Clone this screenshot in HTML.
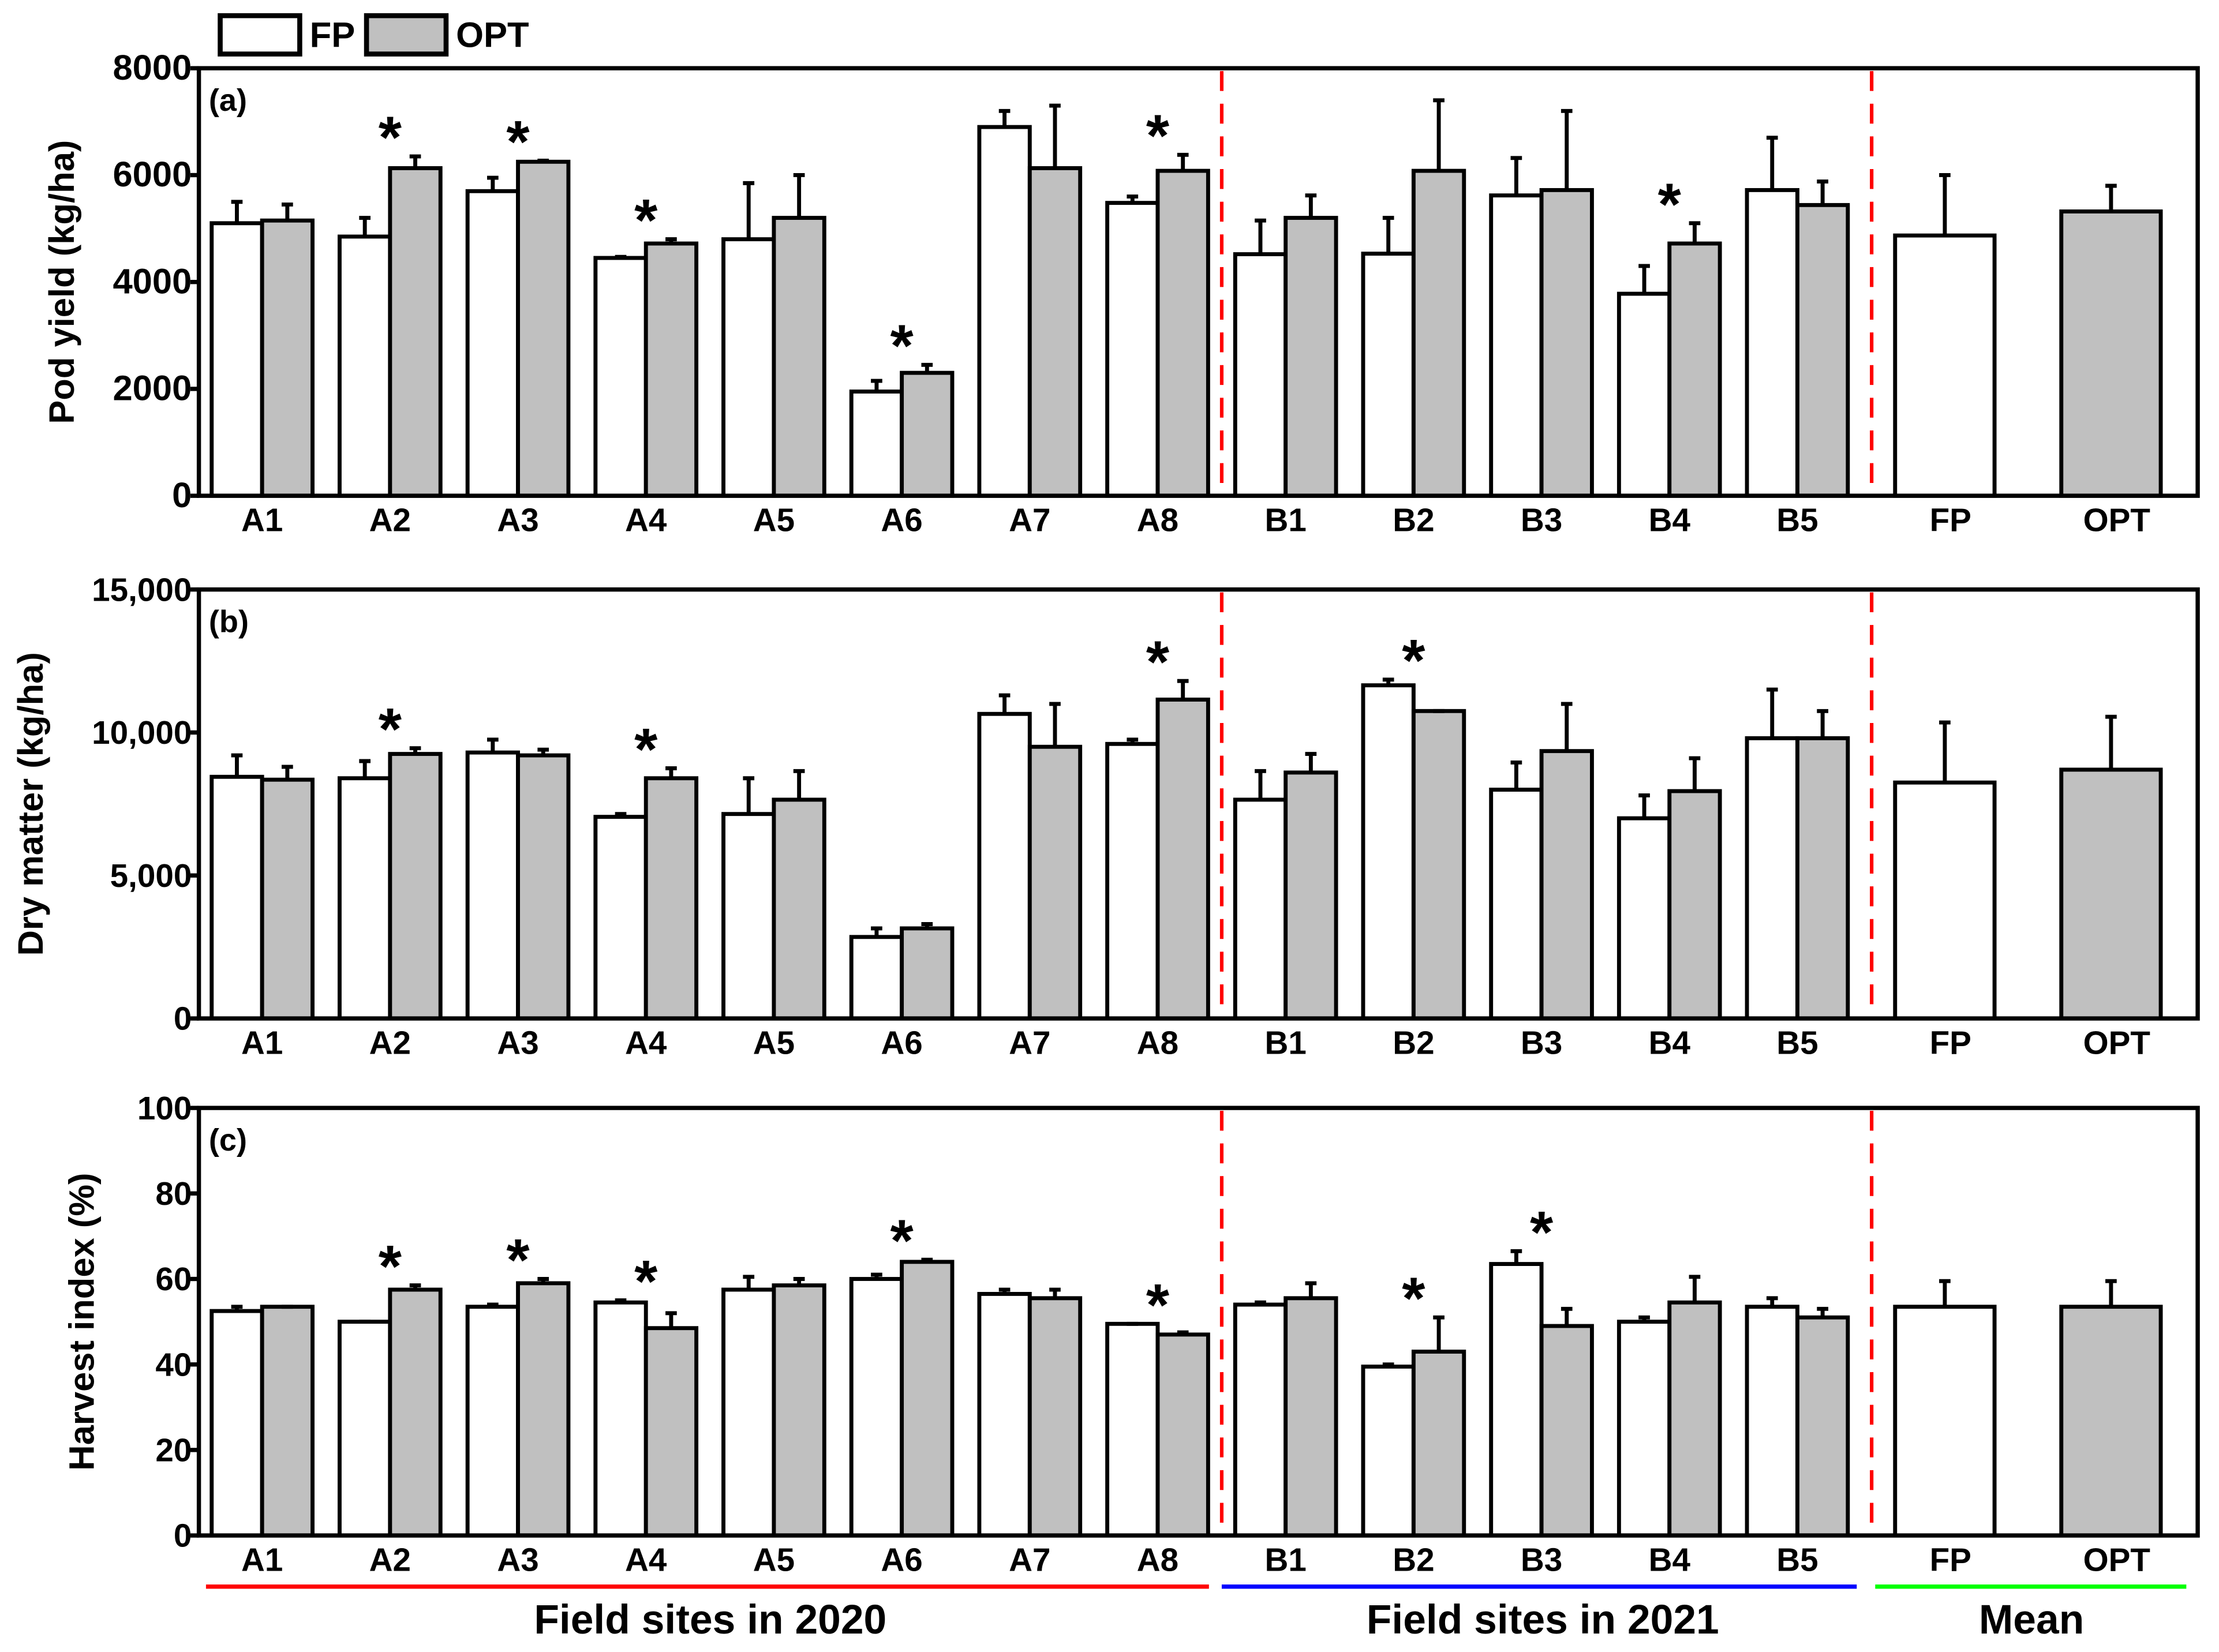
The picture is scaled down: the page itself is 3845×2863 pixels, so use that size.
<!DOCTYPE html>
<html><head><meta charset="utf-8"><style>
html,body{margin:0;padding:0;background:#fff;overflow:hidden}
svg{display:block}
text{font-family:"Liberation Sans",sans-serif;font-weight:bold;fill:#000}
.n{font-family:"Liberation Sans Narrow","Liberation Sans",sans-serif}
</style></head><body>
<svg id="chart" width="3845" height="2863" viewBox="0 0 1562 1163" xmlns="http://www.w3.org/2000/svg">
<g id="root"></g>
</svg>
<script>
const categories=["A1","A2","A3","A4","A5","A6","A7","A8","B1","B2","B3","B4","B5"];
const meanLabels=["FP","OPT"];
// panel a: pod yield
const aFP=[5100,4850,5700,4450,4800,1950,6900,5480,4520,4530,5620,3780,5720];
const aFPerr=[5500,5200,5950,4470,5850,2150,7200,5600,5150,5200,6320,4300,6700];
const aOPT=[5150,6130,6250,4720,5200,2300,6130,6080,5200,6080,5720,4720,5440];
const aOPTerr=[5450,6350,6270,4800,6000,2450,7300,6380,5620,7400,7200,5100,5880];
const aMean=[4870,5320];const aMeanErr=[6000,5800];
const aStars=["A2","A3","A4","A6","A8","B4"];
const aTicks=["0","2000","4000","6000","8000"];
// panel b: dry matter
const bFP=[8450,8400,9300,7050,7150,2850,10650,9600,7650,11650,8000,7000,9800];
const bFPerr=[9200,9000,9750,7150,8400,3150,11300,9750,8650,11850,8950,7800,11500];
const bOPT=[8350,9250,9200,8400,7650,3150,9500,11150,8600,10750,9350,7950,9800];
const bOPTerr=[8800,9450,9400,8750,8650,3300,11000,11800,9250,10750,11000,9100,10750];
const bMean=[8250,8700];const bMeanErr=[10350,10550];
const bStars=["A2","A4","A8","B2"];
const bTicks=["0","5,000","10,000","15,000"];
// panel c: harvest index
const cFP=[52.5,50,53.5,54.5,57.5,60,56.5,49.5,54,39.5,63.5,50,53.5];
const cFPerr=[53.5,50,54,55,60.5,61,57.5,49.5,54.5,40,66.5,51,55.5];
const cOPT=[53.5,57.5,59,48.5,58.5,64,55.5,47,55.5,43,49,54.5,51];
const cOPTerr=[53.5,58.5,60,52,60,64.5,57.5,47.5,59,51,53,60.5,53];
const cMean=[53.5,53.5];const cMeanErr=[59.5,59.5];
const cStars=["A2","A3","A4","A6","A8","B2","B3"];
const cTicks=["0","20","40","60","80","100"];

const NS="http://www.w3.org/2000/svg";
const root=document.getElementById('root');
function el(tag,attrs,parent,txt){const e=document.createElementNS(NS,tag);for(const k in attrs)e.setAttribute(k,attrs[k]);if(txt!==undefined)e.textContent=txt;(parent||root).appendChild(e);return e;}
const X0=140,X1=1547;
const xCenter=i=>184.5+i*90.06;
const meanX=[1369,1486];

const panels=[
 {id:'a',top:48,bot:349,max:8000,fp:aFP,fpe:aFPerr,op:aOPT,ope:aOPTerr,m:aMean,me:aMeanErr,st:aStars,ticks:aTicks,title:'Pod yield (kg/ha)',tx:52,narrow:true},
 {id:'b',top:415,bot:717,max:15000,fp:bFP,fpe:bFPerr,op:bOPT,ope:bOPTerr,m:bMean,me:bMeanErr,st:bStars,ticks:bTicks,title:'Dry matter (kg/ha)',tx:30,narrow:false},
 {id:'c',top:780,bot:1081,max:100,fp:cFP,fpe:cFPerr,op:cOPT,ope:cOPTerr,m:cMean,me:cMeanErr,st:cStars,ticks:cTicks,title:'Harvest index (%)',tx:66,narrow:false}
];
panels.forEach(p=>{
 const g=el('g',{});
 
 
 const y=v=>p.bot-(v/p.max)*(p.bot-p.top);
 function bar(x,w,v,e,fill,name){
  const r=el('rect',{x:x,y:y(v),width:w,height:p.bot-y(v),fill:fill,stroke:'#000','stroke-width':2.8},g);
  
  
  const cx=x+w/2;
  const l=el('path',{d:`M${cx},${y(v)} V${y(e)} M${cx-4},${y(e)} H${cx+4}`,stroke:'#000','stroke-width':2.8,fill:'none'},g);
  
  
 }
 categories.forEach((c,i)=>{
  const cx=xCenter(i);
  bar(cx-35.5,35.5,p.fp[i],p.fpe[i],'#fff','bar-fp-'+c);
  bar(cx,35.5,p.op[i],p.ope[i],'#c0c0c0','bar-opt-'+c);
  const t=el('text',{x:cx,y:p.bot+25,'text-anchor':'middle','font-size':23},g,c);
  
  
 });
 bar(meanX[0]-35,70,p.m[0],p.me[0],'#fff','bar-mean-fp');
 bar(meanX[1]-35,70,p.m[1],p.me[1],'#c0c0c0','bar-mean-opt');
 meanLabels.forEach((m,i)=>{
  const t=el('text',{x:meanX[i]+4,y:p.bot+25,'text-anchor':'middle','font-size':23},g,m);
  
  
 });
 p.st.forEach(s=>{
  const i=categories.indexOf(s);
  const top=Math.min(y(p.fpe[i]),y(p.ope[i]));
  const t=el('text',{x:xCenter(i),y:top+1,'text-anchor':'middle','font-size':42},g,'*');
  
  
 });
 [860,1317.5].forEach((dx,k)=>{
  const d=el('line',{x1:dx,y1:p.top+2,x2:dx,y2:p.bot-2,stroke:'#ff0000','stroke-width':2.5,'stroke-dasharray':'14,9'},g);
  
  
 });
 const box=el('rect',{x:X0,y:p.top,width:X1-X0,height:p.bot-p.top,fill:'none',stroke:'#000','stroke-width':3},g);
 
 
 p.ticks.forEach((tk,i)=>{
  const v=i*p.max/(p.ticks.length-1);
  el('line',{x1:X0-6,x2:X0,y1:y(v),y2:y(v),stroke:'#000','stroke-width':3},g);
  const t=el('text',{x:X0-5,y:y(v)+8,'text-anchor':'end','font-size':p.narrow?25:23,class:p.narrow?'n':''},g,tk);
  
  
 });
 const tl=el('text',{x:p.tx,y:(p.top+p.bot)/2,'text-anchor':'middle','font-size':25,transform:`rotate(-90 ${p.tx} ${(p.top+p.bot)/2})`},g,p.title);
 
 
 const pl=el('text',{x:X0+7,y:p.top+30,'font-size':22},g,'('+p.id+')');
 
 
});
[['FP','#fff',155,218],['OPT','#c0c0c0',258,321]].forEach(l=>{
 const r=el('rect',{x:l[2],y:11,width:56,height:27,fill:l[1],stroke:'#000','stroke-width':3.5});
 
 
 const t=el('text',{x:l[3],y:33,'font-size':25,class:'n'},root,l[0]);
 
 
});
[[145,851,'#ff0000','Field sites in 2020',500],[860,1307,'#0000ff','Field sites in 2021',1086],[1320,1539,'#00ff00','Mean',1430]].forEach((g,k)=>{
 const l=el('line',{x1:g[0],x2:g[1],y1:1117,y2:1117,stroke:g[2],'stroke-width':3});
 
 
 const t=el('text',{x:g[4],y:1150,'text-anchor':'middle','font-size':29},root,g[3]);
 
 
});
</script>
</body></html>
